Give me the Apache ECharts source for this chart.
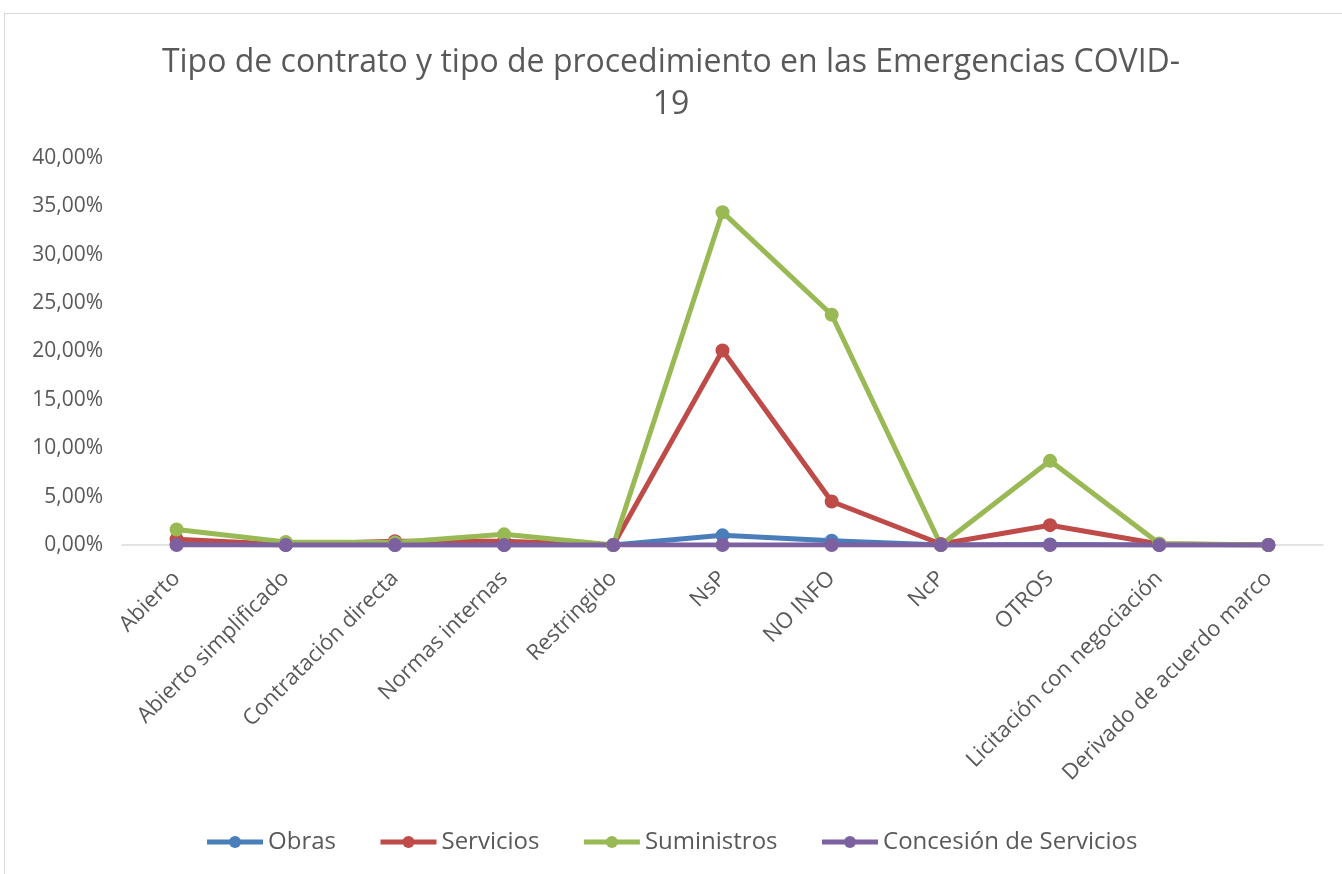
<!DOCTYPE html>
<html>
<head>
<meta charset="utf-8">
<script src="https://cdn.jsdelivr.net/npm/echarts@6/dist/echarts.min.js"></script>
<style>
    html, body { margin: 0; padding: 0; background: #fff; }
    #frame { position: absolute; left: 4px; top: 13px; width: 1400px; height: 900px; border-left: 1px solid #d9d9d9; border-top: 1px solid #d9d9d9; }
    #chart { position: absolute; left: 0; top: 0; width: 1342px; height: 874px; }
</style>
</head>
<body>
<div id="frame"></div>
<div id="chart"></div>
<script>
var categorias = ["Abierto", "Abierto simplificado", "Contratación directa", "Normas internas", "Restringido",
    "NsP", "NO INFO", "NcP", "OTROS", "Licitación con negociación", "Derivado de acuerdo marco"];
// valores en %
var obras = [0.1, 0, 0, 0, 0, 1.0, 0.45, 0, 0.05, 0, 0];
var servicios = [0.6, 0.05, 0.4, 0.4, 0, 20.1, 4.5, 0.1, 2.05, 0.1, 0];
var suministros = [1.6, 0.3, 0.25, 1.1, 0, 34.4, 23.8, 0, 8.7, 0.15, 0];
var concesion = [0, 0, 0, 0, 0, 0, 0, 0, 0, 0, 0];
var yTicks = { min: 0, max: 40, interval: 5 };

var fuente = "'Open Sans', sans-serif";
var gris = "#595959";

function serie(nombre, datos, color) {
    return {
        name: nombre,
        type: 'line',
        data: datos,
        symbol: 'circle',
        symbolSize: 14,
        lineStyle: { width: 5, color: color },
        itemStyle: { color: color },
        emphasis: { disabled: true }
    };
}

var myChart = echarts.init(document.getElementById("chart"));
var option = {
    animation: false,
    title: {
        text: "Tipo de contrato y tipo de procedimiento en las Emergencias COVID-\n19",
        left: 'center',
        top: 37,
        textStyle: { fontFamily: fuente, fontWeight: 'normal', fontSize: 32, color: gris, lineHeight: 42 }
    },
    legend: {
        bottom: 15,
        left: 'center',
        itemWidth: 56,
        itemHeight: 15,
        itemGap: 42,
        lineStyle: { width: 5 },
        textStyle: { fontFamily: fuente, fontSize: 24, color: gris },
        data: ["Obras", "Servicios", "Suministros", "Concesión de Servicios"]
    },
    grid: { left: 122, right: 19, top: 158, bottom: 329 },
    xAxis: {
        type: 'category',
        data: categorias,
        axisLine: { lineStyle: { color: '#d9d9d9', width: 1.5 } },
        axisTick: { show: false },
        axisLabel: { rotate: 45, fontFamily: fuente, fontSize: 22, color: gris, margin: 30 }
    },
    yAxis: {
        type: 'value',
        min: yTicks.min,
        max: yTicks.max,
        interval: yTicks.interval,
        axisLine: { show: false },
        axisTick: { show: false },
        splitLine: { show: false },
        axisLabel: {
            fontFamily: fuente, fontSize: 21, color: gris, margin: 19,
            formatter: function (v) { return v.toFixed(2).replace('.', ',') + '%'; }
        }
    },
    series: [
        serie("Obras", obras, "#4a7ebb"),
        serie("Servicios", servicios, "#be4b48"),
        serie("Suministros", suministros, "#98b954"),
        serie("Concesión de Servicios", concesion, "#7d60a0")
    ]
};
myChart.setOption(option);
</script>
</body>
</html>
